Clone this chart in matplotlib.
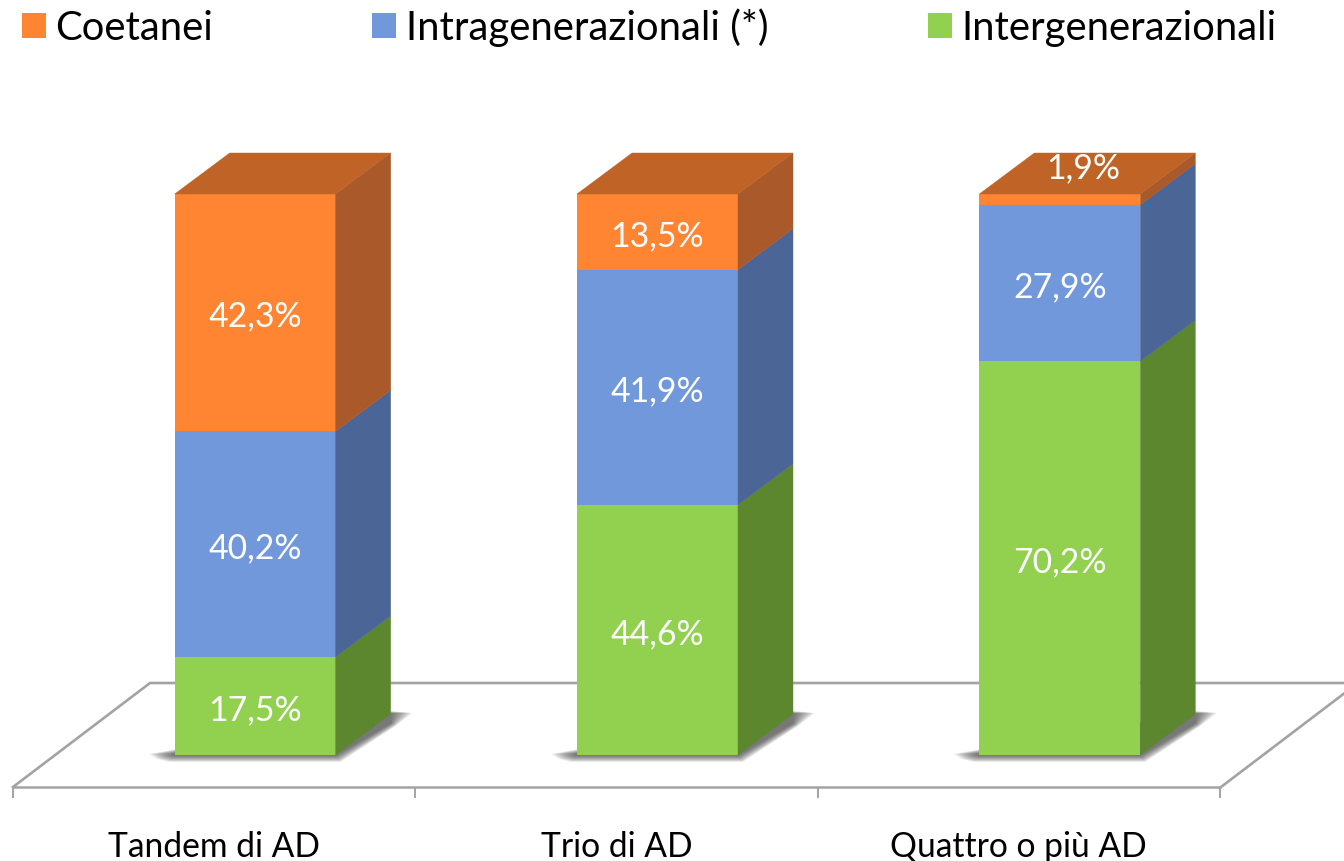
import matplotlib
matplotlib.use("Agg")
import matplotlib.pyplot as plt
import numpy as np
from matplotlib.patches import Polygon, Patch
from matplotlib.ticker import FixedLocator, NullFormatter

categories = ["Tandem di AD", "Trio di AD", "Quattro o più AD"]
intergenerazionali = [17.5, 44.6, 70.2]
intragenerazionali = [40.2, 41.9, 27.9]
coetanei = [42.3, 13.5, 1.9]
series_names = ["Intergenerazionali", "Intragenerazionali (*)", "Coetanei"]
front_colors = ["#92D050", "#7298DC", "#FF8533"]
side_colors = ["#5C872F", "#4A6596", "#A9592A"]
top_color = "#BF6426"

W, H = 1344, 861
plt.rcParams["font.family"] = ["Lato", "DejaVu Sans"]
fig = plt.figure(figsize=(W / 100, H / 100), dpi=100)
# Plot box: category axis along the front floor edge, value 100 at the front top
L, R, T, B = 13, 1220, 194, 787
ax = fig.add_axes([L / W, 1 - B / H, (R - L) / W, (B - T) / H])
px_x = (R - L) / 3
px_y = 5.61
ax.set_xlim(-0.5, 2.5)
ax.set_ylim(-(B - 755) / px_y, 100)

GRAY = "#A3A3A3"
for s in ["left", "right", "top"]:
    ax.spines[s].set_visible(False)
ax.spines["bottom"].set_color(GRAY)
ax.spines["bottom"].set_linewidth(1.8)
ax.yaxis.set_visible(False)
ax.xaxis.set_major_locator(FixedLocator([-0.5, 0.5, 1.5, 2.5]))
ax.xaxis.set_major_formatter(NullFormatter())
ax.set_xticks(range(3), categories, minor=True, fontsize=24.2, color="black")
ax.tick_params(axis="x", which="major", length=8, width=1.4, color=GRAY)
ax.tick_params(axis="x", which="minor", length=0, pad=32)


def P(xd, yd, dxp=0, dyp=0):
    """data position plus a pixel offset (dyp positive = upward)."""
    return (xd + dxp / px_x, yd + dyp / px_y)


ybot = ax.get_ylim()[0]
# floor outline
ax.plot(*zip(P(-0.5, ybot), P(-0.5, ybot, 137, 104), P(2.5, ybot, 140, 104)),
        color=GRAY, lw=1.9, clip_on=False, zorder=1, solid_joinstyle="miter")
ax.plot(*zip(P(2.5, ybot, 1, 0), P(2.5, ybot, 130, 98)),
        color=GRAY, lw=1.9, clip_on=False, zorder=1)

bar_w = 161 / px_x
off = 41 / px_x
dx, dy = 55, 41
centers = np.arange(3) + off

# soft shadows on the floor
n_layers = 20
for c in centers:
    xl, xr = c - bar_w / 2, c + bar_w / 2
    for k in range(n_layers):
        g = 1 - k / n_layers
        pts = [P(xl, 0, -26 * g, 1), P(xl, 0, -18 * g, -4 * g), P(xl, 0, -6 * g, -7 * g),
               P(xr, 0, 5 * g, -7 * g), P(xr, 0, dx + 5 * g, dy - 9 - 3 * g),
               P(xr, 0, dx + 22 * g, dy + 1), P(xr, 0, dx, dy + 3 * g)]
        ax.add_patch(Polygon(pts, closed=True, fc="#404040", ec="none", alpha=0.055,
                             clip_on=False, zorder=1.5))

bottom = np.zeros(3)
stacks = [intergenerazionali, intragenerazionali, coetanei]
for vals, name, fc, sc in zip(stacks, series_names, front_colors, side_colors):
    vals = np.array(vals)
    ax.bar(centers, vals, bar_w, bottom=bottom, color=fc, zorder=3, label=name, clip_on=False)
    for c, b, v in zip(centers, bottom, vals):
        xr = c + bar_w / 2
        ax.add_patch(Polygon([P(xr, b), P(xr, b + v), P(xr, b + v, dx, dy), P(xr, b, dx, dy)],
                             closed=True, fc=sc, ec=sc, lw=0.3, clip_on=False, zorder=3))
        tx, ty = P(c, b + v / 2, 0, -4)
        if v < 3:  # too thin for its label: it sits on the top face
            tx, ty = P(c, b + v, 23, 26)
        ax.text(tx, ty, f"{v:.1f}".replace(".", ",") + "%", color="white", ha="center",
                va="center", fontsize=24.3, zorder=6)
    bottom = bottom + vals

# top faces
for c, t in zip(centers, bottom):
    xl, xr = c - bar_w / 2, c + bar_w / 2
    ax.add_patch(Polygon([P(xl, t), P(xr, t), P(xr, t, dx, dy), P(xl, t, dx, dy)],
                         closed=True, fc=top_color, ec=top_color, lw=0.3, clip_on=False, zorder=4))

handles = [Patch(fc=front_colors[2]), Patch(fc=front_colors[1]), Patch(fc=front_colors[0])]
labels = [series_names[2], series_names[1], series_names[0]]
fig.legend(handles, labels, ncols=3, loc="upper left", bbox_to_anchor=(22 / W, 1 - 8 / H),
           frameon=False, fontsize=28.8, handlelength=0.6, handleheight=0.6,
           handletextpad=0.235, columnspacing=3.98, borderpad=0, borderaxespad=0,
           labelcolor="black")
fig.savefig("out.png", dpi=100, facecolor="white")
